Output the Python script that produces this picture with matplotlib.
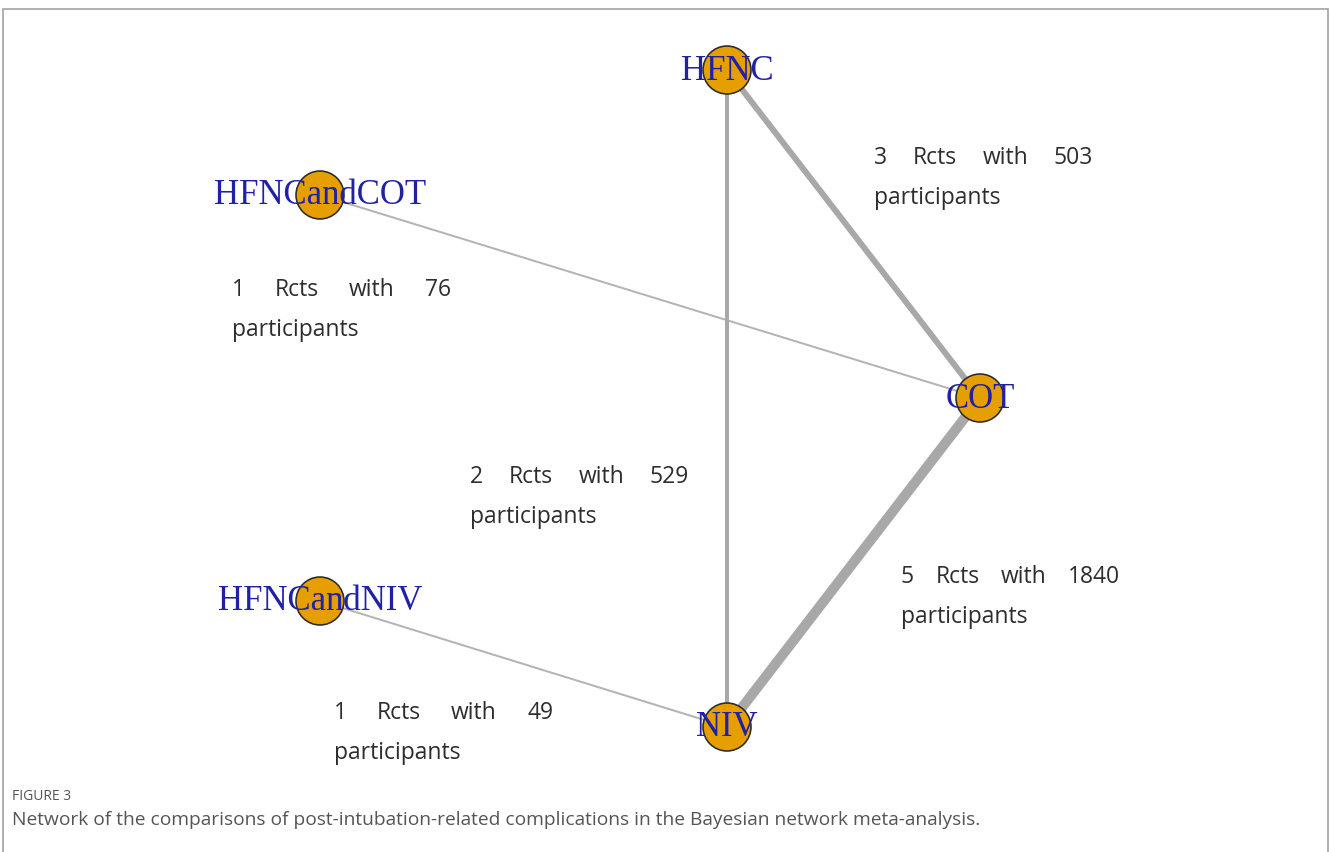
import matplotlib
matplotlib.use("Agg")
import matplotlib.pyplot as plt
from matplotlib.patches import Circle

# Treatments in the network
treatments = ["HFNC", "HFNCandCOT", "COT", "HFNCandNIV", "NIV"]

# Direct comparisons: (treatment A, treatment B), number of RCTs, participants
comparisons = [("HFNC", "COT"), ("HFNCandCOT", "COT"), ("HFNC", "NIV"),
               ("COT", "NIV"), ("HFNCandNIV", "NIV")]
n_rcts = [3, 1, 2, 5, 1]
n_participants = [503, 76, 529, 1840, 49]

# Layout (canvas pixels, y downward)
node_xy = {"HFNC": (727, 70), "HFNCandCOT": (320, 195), "COT": (980, 398),
           "HFNCandNIV": (320, 601), "NIV": (727, 727)}
label_anchor = [(874, 158), (232, 290), (470, 477), (901, 577), (334, 713)]
label_block_w = 219
line_gap = 40

W, H, DPI = 1330, 852, 100
fig = plt.figure(figsize=(W / DPI, H / DPI), dpi=DPI)
ax = fig.add_axes([0, 0, 1, 1])
ax.set_xlim(0, W)
ax.set_ylim(H, 0)
ax.axis("off")

px = 72 / DPI  # points per pixel

# Panel frame (open at the bottom)
ax.plot([2.5, 2.5, 1327.5, 1327.5], [H, 8.5, 8.5, H], color="#a0a0a0",
        lw=1.6 * px, solid_joinstyle="miter", zorder=1)

# Edges, width proportional to number of trials
for (a, b), n in zip(comparisons, n_rcts):
    (x1, y1), (x2, y2) = node_xy[a], node_xy[b]
    ax.plot([x1, x2], [y1, y2], color="#a8a8a8" if n > 1 else "#b4b4b4",
            lw=2.0 * n * px, solid_capstyle="butt", zorder=2)

# Nodes
for t in treatments:
    x, y = node_xy[t]
    ax.add_patch(Circle((x, y), 24, facecolor="#E69F00", edgecolor="#2b2b2b",
                        lw=1.6 * px, zorder=3))
    ax.text(x, y + 1, t, ha="center", va="center", fontsize=25,
            family="Liberation Serif", color="#2121a6", zorder=4)

# Justified edge labels
fig.canvas.draw()
renderer = fig.canvas.get_renderer()
lab_kw = dict(fontsize=16.5, family="Open Sans", color="#2d2d2d", va="center", zorder=5)
for (x0, y0), n, p in zip(label_anchor, n_rcts, n_participants):
    words = [str(n), "Rcts", "with", str(p)]
    objs = [ax.text(0, y0, w, ha="left", **lab_kw) for w in words]
    widths = [o.get_window_extent(renderer).width for o in objs]
    gap = (label_block_w - sum(widths)) / (len(words) - 1)
    x = x0
    for o, w in zip(objs, widths):
        o.set_x(x)
        x += w + gap
    ax.text(x0, y0 + line_gap, "participants", ha="left", **lab_kw)

# Caption
fig.text(12 / W, 1 - 797 / H, "FIGURE 3", fontsize=10, family="Open Sans",
         color="#555555", va="center", ha="left")
fig.text(12 / W, 1 - 820 / H,
         "Network of the comparisons of post-intubation-related complications "
         "in the Bayesian network meta-analysis.",
         fontsize=13.8, family="Open Sans", color="#555555", va="center", ha="left")

fig.savefig("out.png", dpi=DPI)
